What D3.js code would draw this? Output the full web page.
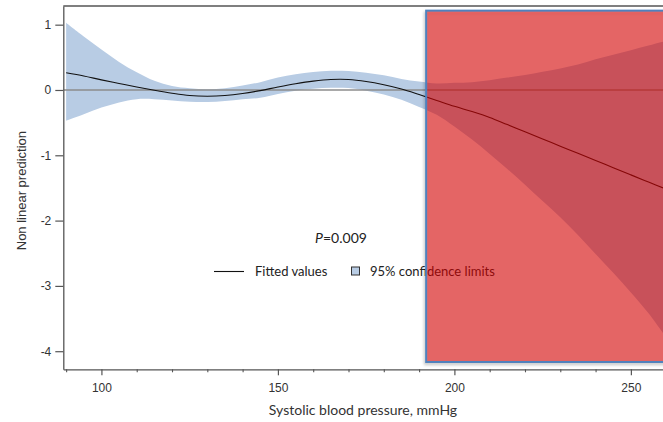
<!DOCTYPE html>
<html>
<head>
<meta charset="utf-8">
<script src="https://cdn.jsdelivr.net/npm/d3@7"></script>
<style>
  html, body { margin: 0; padding: 0; background: #fff; }
  svg { display: block; }
</style>
</head>
<body>
<svg id="chart" width="663" height="422"></svg>
<script>
// ---- data ----
const sbp    = [90, 95, 100, 105, 110, 115, 120, 125, 130, 135, 140, 145, 150, 155, 160, 165, 170, 175, 180, 185, 190, 195, 200, 205, 210, 215, 220, 225, 230, 235, 240, 245, 250, 255, 260];
const fitted = [0.265, 0.215, 0.155, 0.10, 0.045, -0.005, -0.05, -0.085, -0.095, -0.085, -0.055, -0.01, 0.045, 0.095, 0.135, 0.16, 0.16, 0.13, 0.08, 0.015, -0.07, -0.16, -0.25, -0.33, -0.42, -0.53, -0.64, -0.75, -0.86, -0.97, -1.08, -1.19, -1.30, -1.41, -1.52];
const upper  = [1.03, 0.82, 0.62, 0.43, 0.27, 0.14, 0.06, 0.025, 0.01, 0.025, 0.07, 0.12, 0.19, 0.24, 0.275, 0.295, 0.29, 0.265, 0.225, 0.17, 0.13, 0.10, 0.11, 0.12, 0.15, 0.19, 0.23, 0.28, 0.33, 0.39, 0.47, 0.54, 0.61, 0.68, 0.75];
const lower  = [-0.47, -0.37, -0.27, -0.19, -0.14, -0.14, -0.16, -0.18, -0.185, -0.17, -0.14, -0.12, -0.06, -0.01, 0.02, 0.035, 0.03, -0.01, -0.07, -0.15, -0.26, -0.38, -0.56, -0.76, -0.98, -1.21, -1.45, -1.70, -1.95, -2.22, -2.51, -2.80, -3.10, -3.42, -3.79];
const yTicks = [1, 0, -1, -2, -3, -4];
const xMajorTicks = [100, 150, 200, 250];
const xMinorTicks = [90, 110, 120, 130, 140, 160, 170, 180, 190, 210, 220, 230, 240, 260];
const pText = "=0.009";
const legendLabels = ["Fitted values", "95% confidence limits"];
const highlight = [{ x0: 192.0, x1: 275, y0: 1.215, y1: -4.165 }];

// ---- layout ----
const svg = d3.select("#chart");
const mLeft = 63.3, mRight = 663, mTop = 6, mBottom = 369.3;
const x = d3.scaleLinear().domain([89.2, 259.1]).range([mLeft, mRight]);
const y = d3.scaleLinear().domain([1.286, -4.277]).range([mTop, mBottom]);

const data = sbp.map((v, i) => ({ v, f: fitted[i], u: upper[i], l: lower[i] }));
const crv = d3.curveCatmullRom.alpha(0.5);

const defs = svg.append("defs");
defs.append("clipPath").attr("id", "plotclip")
  .append("rect").attr("x", mLeft).attr("y", mTop).attr("width", mRight - mLeft + 50).attr("height", mBottom - mTop);

const plot = svg.append("g").attr("clip-path", "url(#plotclip)");

// CI band
plot.append("path")
  .datum(data)
  .attr("fill", "#b8cce4")
  .attr("d", d3.area().x(d => x(d.v)).y0(d => y(d.l)).y1(d => y(d.u)).curve(crv));

// zero reference line
plot.append("line")
  .attr("x1", mLeft).attr("x2", mRight + 50)
  .attr("y1", y(0)).attr("y2", y(0))
  .attr("stroke", "#8c8c8c").attr("stroke-width", 1.6);

// fitted line
plot.append("path")
  .datum(data)
  .attr("fill", "none")
  .attr("stroke", "#111")
  .attr("stroke-width", 1.1)
  .attr("d", d3.line().x(d => x(d.v)).y(d => y(d.f)).curve(crv));

// frame: top line
svg.append("line")
  .attr("x1", mLeft).attr("x2", mRight + 10).attr("y1", mTop).attr("y2", mTop)
  .attr("stroke", "#555").attr("stroke-width", 1.3);

const tickFont = "'Liberation Sans', Arial, sans-serif";

// y axis
const yAxis = svg.append("g").attr("transform", `translate(${mLeft},0)`)
  .call(d3.axisLeft(y).tickValues(yTicks).tickSize(8).tickSizeOuter(0).tickPadding(4).tickFormat(d => String(d)));
yAxis.attr("font-family", tickFont).attr("font-size", 12);
yAxis.select(".domain").attr("stroke", "#555").attr("stroke-width", 1.3);
yAxis.selectAll(".tick line").attr("stroke", "#555").attr("stroke-width", 1.2);
yAxis.selectAll(".tick text").attr("fill", "#333");

// x axis
const xAxis = svg.append("g").attr("transform", `translate(0,${mBottom})`)
  .call(d3.axisBottom(x).tickValues(xMajorTicks).tickSize(6).tickSizeOuter(0).tickPadding(8).tickFormat(d => String(d)));
xAxis.attr("font-family", tickFont).attr("font-size", 12);
xAxis.select(".domain").attr("stroke", "#555").attr("stroke-width", 1.3);
xAxis.selectAll(".tick line").attr("stroke", "#555").attr("stroke-width", 1.2);
xAxis.selectAll(".tick text").attr("fill", "#333");

const xMinor = svg.append("g").attr("transform", `translate(0,${mBottom})`)
  .call(d3.axisBottom(x).tickValues(xMinorTicks).tickSize(3).tickSizeOuter(0).tickFormat(""));
xMinor.select(".domain").remove();
xMinor.selectAll(".tick line").attr("stroke", "#555").attr("stroke-width", 1.1);

// axis titles
svg.append("text")
  .attr("transform", `translate(26,${(mTop + mBottom) / 2 + 3}) rotate(-90)`)
  .attr("text-anchor", "middle")
  .attr("font-family", tickFont)
  .attr("font-size", 13).attr("fill", "#333")
  .text("Non linear prediction");

svg.append("text")
  .attr("x", 363).attr("y", 415)
  .attr("text-anchor", "middle")
  .attr("font-family", "Lato, 'Open Sans', sans-serif")
  .attr("font-size", 14).attr("fill", "#333")
  .text("Systolic blood pressure, mmHg");

// P value
const pt = svg.append("text")
  .attr("x", 341).attr("y", 243)
  .attr("text-anchor", "middle")
  .attr("font-family", "Lato, 'Open Sans', sans-serif")
  .attr("font-size", 14).attr("fill", "#222");
pt.append("tspan").attr("font-style", "italic").text("P");
pt.append("tspan").text(pText);

// legend
const lg = svg.append("g").attr("font-family", "Lato, 'Open Sans', sans-serif").attr("font-size", 13).attr("fill", "#222");
lg.append("line").attr("x1", 214).attr("x2", 244).attr("y1", 271.5).attr("y2", 271.5).attr("stroke", "#111").attr("stroke-width", 1.1);
lg.append("text").attr("x", 255).attr("y", 275.5).text(legendLabels[0]);
lg.append("rect").attr("x", 351.5).attr("y", 267).attr("width", 8).attr("height", 8)
  .attr("fill", "#b8cce4").attr("stroke", "#333").attr("stroke-width", 1);
lg.append("text").attr("x", 370).attr("y", 275.5).text(legendLabels[1]);

// highlight overlay with shadow
const f = defs.append("filter").attr("id", "shadow").attr("x", "-10%").attr("y", "-10%").attr("width", "130%").attr("height", "130%");
f.append("feDropShadow").attr("dx", -1).attr("dy", 2).attr("stdDeviation", 1.5).attr("flood-color", "#000").attr("flood-opacity", 0.25);

svg.selectAll("rect.hl").data(highlight).enter().append("rect")
  .attr("class", "hl")
  .attr("x", d => x(d.x0)).attr("y", d => y(d.y0))
  .attr("width", d => x(d.x1) - x(d.x0)).attr("height", d => y(d.y1) - y(d.y0))
  .attr("fill", "rgba(220,10,10,0.54)")
  .attr("stroke", "#4f81bd").attr("stroke-width", 2)
  .attr("filter", "url(#shadow)");
</script>
</body>
</html>
